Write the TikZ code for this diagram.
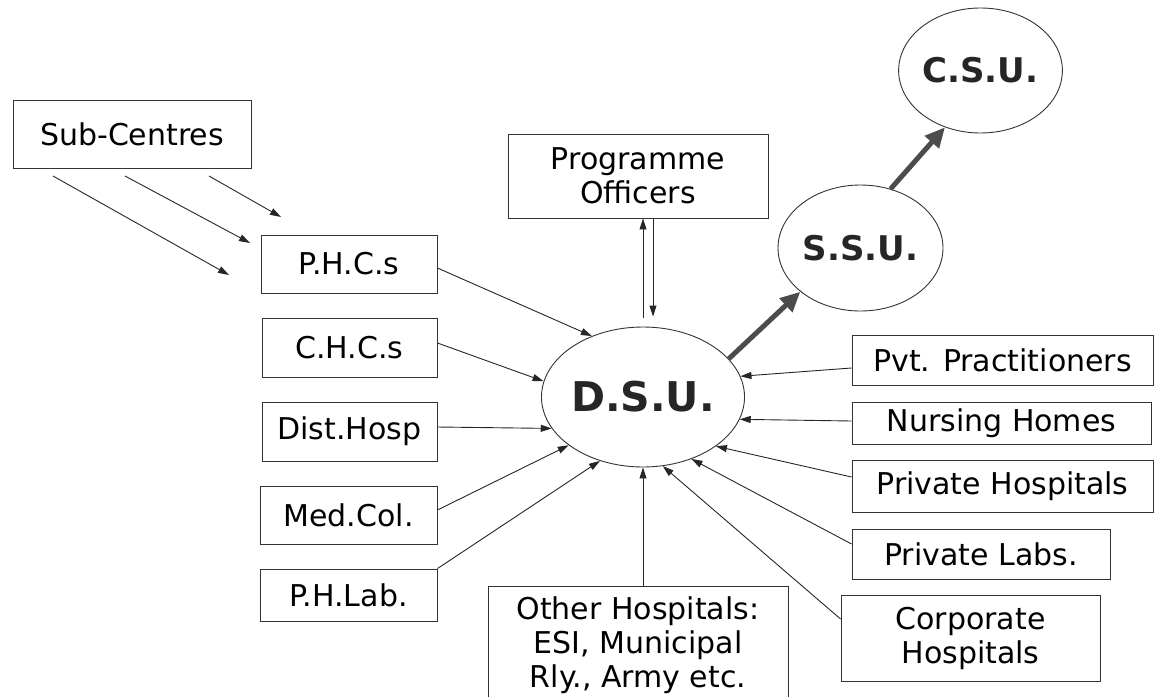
\documentclass[tikz,border=0pt]{standalone}
\usepackage{fontspec}
\setmainfont{DejaVu Sans}
\usetikzlibrary{shapes.geometric,arrows.meta}
\begin{document}
\begin{tikzpicture}[x=1pt,y=-1pt,
  box/.style={draw=black!80, line width=0.9pt, inner sep=0pt, align=center,
    font=\fontsize{30}{34}\selectfont},
  unit/.style={ellipse, draw=black!80, line width=0.9pt, inner sep=0pt,
    text=black!85, font=\bfseries\fontsize{34}{38}\selectfont},
  arr/.style={draw=black!85, line width=0.9pt, -{Triangle[length=11pt,width=7pt]}},
  bigarr/.style={draw=black!70, line width=5pt, -{Triangle[length=20pt,width=18pt]}}
]
\useasboundingbox (0,0) rectangle (1156,696);

% left boxes
\node[box, minimum width=238pt, minimum height=68pt] (sub) at (132,134) {Sub-Centres};
\node[box, minimum width=176pt, minimum height=58pt] (phc) at (349,264) {P.H.C.s};
\node[box, minimum width=175pt, minimum height=59pt] (chc) at (349.5,347.5) {C.H.C.s};
\node[box, minimum width=175pt, minimum height=59pt] (dist) at (349.5,431.5) {Dist.Hosp};
\node[box, minimum width=177pt, minimum height=58pt] (med) at (348.5,515) {Med.Col.};
\node[box, minimum width=177pt, minimum height=52pt] (phlab) at (348.5,595) {P.H.Lab.};

% top / bottom boxes
\node[box, minimum width=260pt, minimum height=84pt] (prog) at (638,176) {Programme\\Officers};
\node[box, minimum width=300pt, minimum height=118pt] (other) at (638,645) {Other Hospitals:\\ESI, Municipal\\Rly., Army etc.};

% right boxes
\node[box, minimum width=301pt, minimum height=50pt] (pvt) at (1002.5,360) {Pvt. Practitioners};
\node[box, minimum width=299pt, minimum height=42pt] (nurs) at (1001.5,423) {Nursing Homes};
\node[box, minimum width=301pt, minimum height=52pt] (phosp) at (1002.5,486) {Private Hospitals};
\node[box, minimum width=258pt, minimum height=50pt] (plabs) at (981,554) {Private Labs.};
\node[box, minimum width=259pt, minimum height=86pt] (corp) at (970.5,638) {Corporate\\Hospitals};

% units
\node[unit, minimum width=186pt, minimum height=140pt, font=\bfseries\fontsize{41}{45}\selectfont] (dsu) at (643,397) {D.S.U.};
\node[unit, minimum width=165pt, minimum height=126pt] (ssu) at (860.5,248) {S.S.U.};
\node[unit, minimum width=155pt, minimum height=125pt] (csu) at (980.5,70.5) {C.S.U.};

% sub-centre arrows (free ends)
\coordinate (s1a) at (53,176);  \coordinate (s1b) at (229,275);
\coordinate (s2a) at (125,176); \coordinate (s2b) at (250,243);
\coordinate (s3a) at (209,176); \coordinate (s3b) at (281,217);
\draw[arr] (s1a) -- (s1b);
\draw[arr] (s2a) -- (s2b);
\draw[arr] (s3a) -- (s3b);

% left arrows into DSU
\draw[arr] ([yshift=-4pt]phc.east) -- (dsu.130);
\draw[arr] ([yshift=4.5pt]chc.east) -- (dsu.171);
\draw[arr] ([yshift=4.5pt]dist.east) -- (dsu.199);
\draw[arr] ([yshift=5pt]med.east) -- (dsu.213);
\draw[arr] (phlab.north east) -- (dsu.236);

% bottom
\draw[arr] (other.north -| dsu.south) -- (dsu.270);

% right arrows into DSU
\draw[arr] ([yshift=-8pt]pvt.west) -- (dsu.12);
\draw[arr] ([yshift=2pt]nurs.west) -- (dsu.347);
\draw[arr] ([yshift=9pt]phosp.west) -- (dsu.326);
\draw[arr] ([yshift=10pt]plabs.west) -- (dsu.308);
\draw[arr] ([yshift=19pt]corp.west) -- (dsu.286);

% programme officers double arrows
\draw[arr] ([yshift=9pt]dsu.north) -- (prog.south -| dsu.north);
\draw[arr] ([xshift=10pt]prog.south -| dsu.north) -- ([xshift=10pt,yshift=10pt]dsu.north);

% upward thick arrows
\draw[bigarr] (dsu.24) -- (ssu.216);
\draw[bigarr] (ssu.63) -- (csu.238);
\end{tikzpicture}
\end{document}
